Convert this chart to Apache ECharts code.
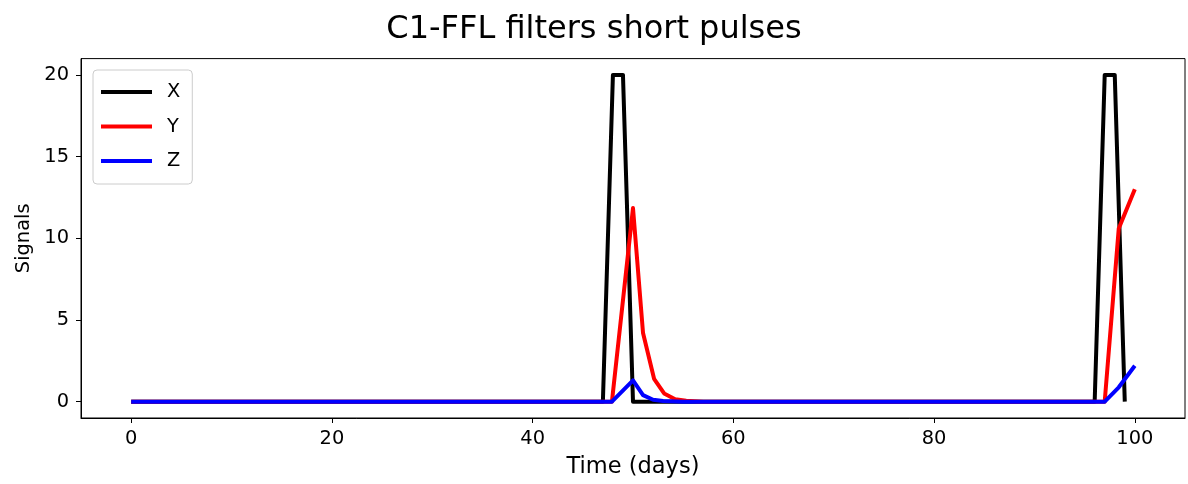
<!DOCTYPE html>
<html>
<head>
<meta charset="utf-8">
<script src="https://cdn.jsdelivr.net/npm/echarts@6/dist/echarts.min.js"></script>
<style>
html,body{margin:0;padding:0;background:#fff;}
#chart{width:1188px;height:484px;}
</style>
</head>
<body>
<div id="chart"></div>
<script>
// ---- data ----
const xTime = [0, 47, 48, 49, 50, 96, 97, 98, 99];
const xVals = [0, 0, 20, 20, 0, 0, 20, 20, 0];

const yTime = [0, 47.9, 50, 51, 52.1, 53.1, 54.2, 55.3, 57, 97, 98.4, 100];
const yVals = [0, 0, 11.85, 4.2, 1.4, 0.5, 0.15, 0.05, 0, 0, 10.6, 13.0];

const zTime = [0, 47.9, 50, 51, 52, 53, 55, 97, 98.4, 100];
const zVals = [0, 0, 1.3, 0.4, 0.12, 0.04, 0, 0, 0.88, 2.2];

const xTicks = [0, 20, 40, 60, 80, 100];
const yTicks = [0, 5, 10, 15, 20];

const seriesNames = ['X', 'Y', 'Z'];
const seriesColors = ['#000000', '#ff0000', '#0000ff'];

function pairs(t, v) { return t.map((ti, i) => [ti, v[i]]); }

const FONT = 'DejaVu Sans';
const chart = echarts.init(document.getElementById('chart'), null, {renderer: 'canvas'});
chart.setOption({
  animation: false,
  backgroundColor: '#ffffff',
  title: {
    text: 'C1-FFL filters short pulses',
    left: 'center',
    top: 9,
    textStyle: {fontFamily: FONT, fontSize: 32, fontWeight: 'normal', color: '#000'}
  },
  grid: {
    left: 81, top: 58.6, width: 1104, height: 359.8,
    show: true, borderColor: '#000', borderWidth: 1, backgroundColor: 'transparent'
  },
  legend: {
    orient: 'vertical',
    left: 93, top: 70,
    data: seriesNames,
    icon: 'rect',
    itemWidth: 51, itemHeight: 4,
    itemGap: 14.5,
    padding: [12, 12, 13, 8],
    backgroundColor: 'rgba(255,255,255,0.8)',
    borderColor: '#cccccc', borderWidth: 1, borderRadius: 4,
    textStyle: {fontFamily: FONT, fontSize: 19.4, color: '#000', lineHeight: 20, padding: [0, 0, 0, 10]}
  },
  xAxis: {
    type: 'value',
    min: -5, max: 105,
    name: 'Time (days)',
    nameLocation: 'middle',
    nameGap: 38,
    nameTextStyle: {fontFamily: FONT, fontSize: 22.5, color: '#000'},
    axisLine: {show: true, onZero: false, lineStyle: {color: '#000', width: 1}},
    axisTick: {show: true, inside: false, customValues: xTicks, length: 5, lineStyle: {color: '#000', width: 1}},
    axisLabel: {customValues: xTicks, margin: 11, fontFamily: FONT, fontSize: 19.4, color: '#000'},
    splitLine: {show: false}
  },
  yAxis: {
    type: 'value',
    min: -1, max: 21,
    name: 'Signals',
    nameLocation: 'middle',
    nameGap: 48,
    nameTextStyle: {fontFamily: FONT, fontSize: 19.4, color: '#000'},
    axisLine: {show: true, onZero: false, lineStyle: {color: '#000', width: 1}},
    axisTick: {show: true, inside: false, customValues: yTicks, length: 5, lineStyle: {color: '#000', width: 1}},
    axisLabel: {customValues: yTicks, margin: 12, fontFamily: FONT, fontSize: 19.4, color: '#000'},
    splitLine: {show: false}
  },
  series: [
    {name: seriesNames[0], type: 'line', data: pairs(xTime, xVals), showSymbol: false,
     lineStyle: {color: seriesColors[0], width: 4, join: 'round', cap: 'butt'}, itemStyle: {color: seriesColors[0]}},
    {name: seriesNames[1], type: 'line', data: pairs(yTime, yVals), showSymbol: false,
     lineStyle: {color: seriesColors[1], width: 4, join: 'round', cap: 'butt'}, itemStyle: {color: seriesColors[1]}},
    {name: seriesNames[2], type: 'line', data: pairs(zTime, zVals), showSymbol: false,
     lineStyle: {color: seriesColors[2], width: 4, join: 'round', cap: 'butt'}, itemStyle: {color: seriesColors[2]}}
  ]
});
</script>
</body>
</html>
